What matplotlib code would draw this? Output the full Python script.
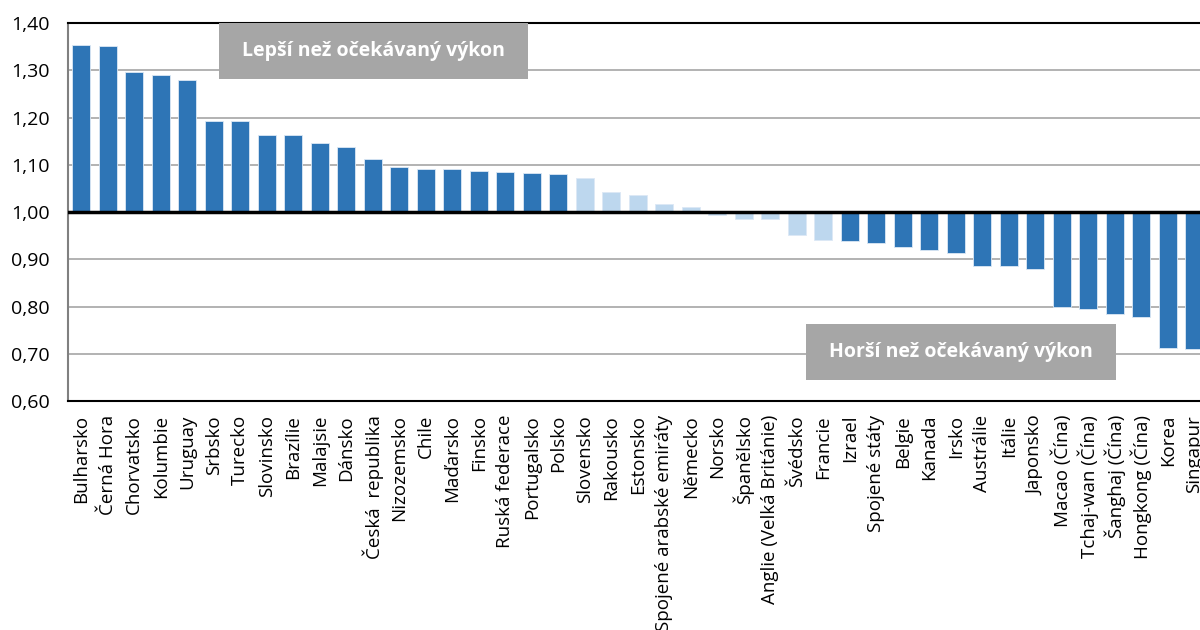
import numpy as np
import matplotlib.pyplot as plt
from matplotlib.patches import Rectangle
from matplotlib.ticker import FuncFormatter

plt.rcParams['font.family'] = ['Open Sans', 'DejaVu Sans']

countries = ["Bulharsko", "Černá Hora", "Chorvatsko", "Kolumbie", "Uruguay", "Srbsko",
             "Turecko", "Slovinsko", "Brazílie", "Malajsie", "Dánsko", "Česká  republika",
             "Nizozemsko", "Chile", "Maďarsko", "Finsko", "Ruská federace", "Portugalsko",
             "Polsko", "Slovensko", "Rakousko", "Estonsko", "Spojené arabské emiráty",
             "Německo", "Norsko", "Španělsko", "Anglie (Velká Británie)", "Švédsko",
             "Francie", "Izrael", "Spojené státy", "Belgie", "Kanada", "Irsko", "Austrálie",
             "Itálie", "Japonsko", "Macao (Čína)", "Tchaj-wan (Čína)", "Šanghaj (Čína)",
             "Hongkong (Čína)", "Korea", "Singapur"]
values = [1.353, 1.352, 1.296, 1.291, 1.279, 1.193, 1.192, 1.162, 1.162, 1.145, 1.138,
          1.113, 1.096, 1.092, 1.090, 1.087, 1.084, 1.082, 1.081, 1.071, 1.043, 1.035,
          1.017, 1.011, 0.993, 0.986, 0.985, 0.952, 0.940, 0.938, 0.934, 0.925, 0.919,
          0.914, 0.885, 0.885, 0.879, 0.799, 0.795, 0.784, 0.777, 0.713, 0.711]
# True = difference not significant (light bars)
not_significant = [False] * 19 + [True] * 10 + [False] * 14

dark = "#2E75B6"
light = "#BDD7EE"

fig = plt.figure(figsize=(12, 6.3), dpi=100)
ax = fig.add_axes([68 / 1200, 229 / 630, 1139.5 / 1200, 378 / 630])

x = np.arange(len(countries))
heights = np.array(values) - 1.0
colors = [light if ns else dark for ns in not_significant]
ax.bar(x, heights, bottom=1.0, width=0.68, color=colors, edgecolor="#DCE8F5",
       linewidth=0.6, zorder=3)

ax.set_xlim(-0.5, len(countries) - 0.5)
ax.set_ylim(0.6, 1.4)
ax.set_yticks(np.arange(0.6, 1.41, 0.1))
ax.yaxis.set_major_formatter(FuncFormatter(lambda v, p: f"{v:.2f}".replace(".", ",")))
ax.grid(axis="y", color="#A6A6A6", linewidth=1.2, zorder=0)
ax.axhline(1.0, color="black", linewidth=2.5, zorder=4)

ax.set_xticks(x)
ax.set_xticklabels(countries, rotation=90, fontsize=13.5)
ax.tick_params(axis="x", length=0, pad=10)
ax.tick_params(axis="y", length=0, labelsize=14, pad=13)

for s in ["top", "bottom"]:
    ax.spines[s].set_color("black")
    ax.spines[s].set_linewidth(1.5)
ax.spines["left"].set_color("#808080")
ax.spines["left"].set_linewidth(1.5)
ax.spines["right"].set_visible(False)

# annotation boxes
boxes = [("Lepší než očekávaný výkon", 0.1325, 0.853, 0.271, 0.147),
         ("Horší než očekávaný výkon", 0.6477, 0.0556, 0.272, 0.148)]
for txt, bx, by, bw, bh in boxes:
    ax.add_patch(Rectangle((bx, by), bw, bh, transform=ax.transAxes,
                           facecolor="#A6A6A6", edgecolor="none", zorder=5))
    ax.text(bx + bw / 2, by + bh / 2, txt, transform=ax.transAxes, color="white",
            fontsize=14, fontweight="bold", ha="center", va="center", zorder=6)

fig.savefig("out.png", dpi=100)
